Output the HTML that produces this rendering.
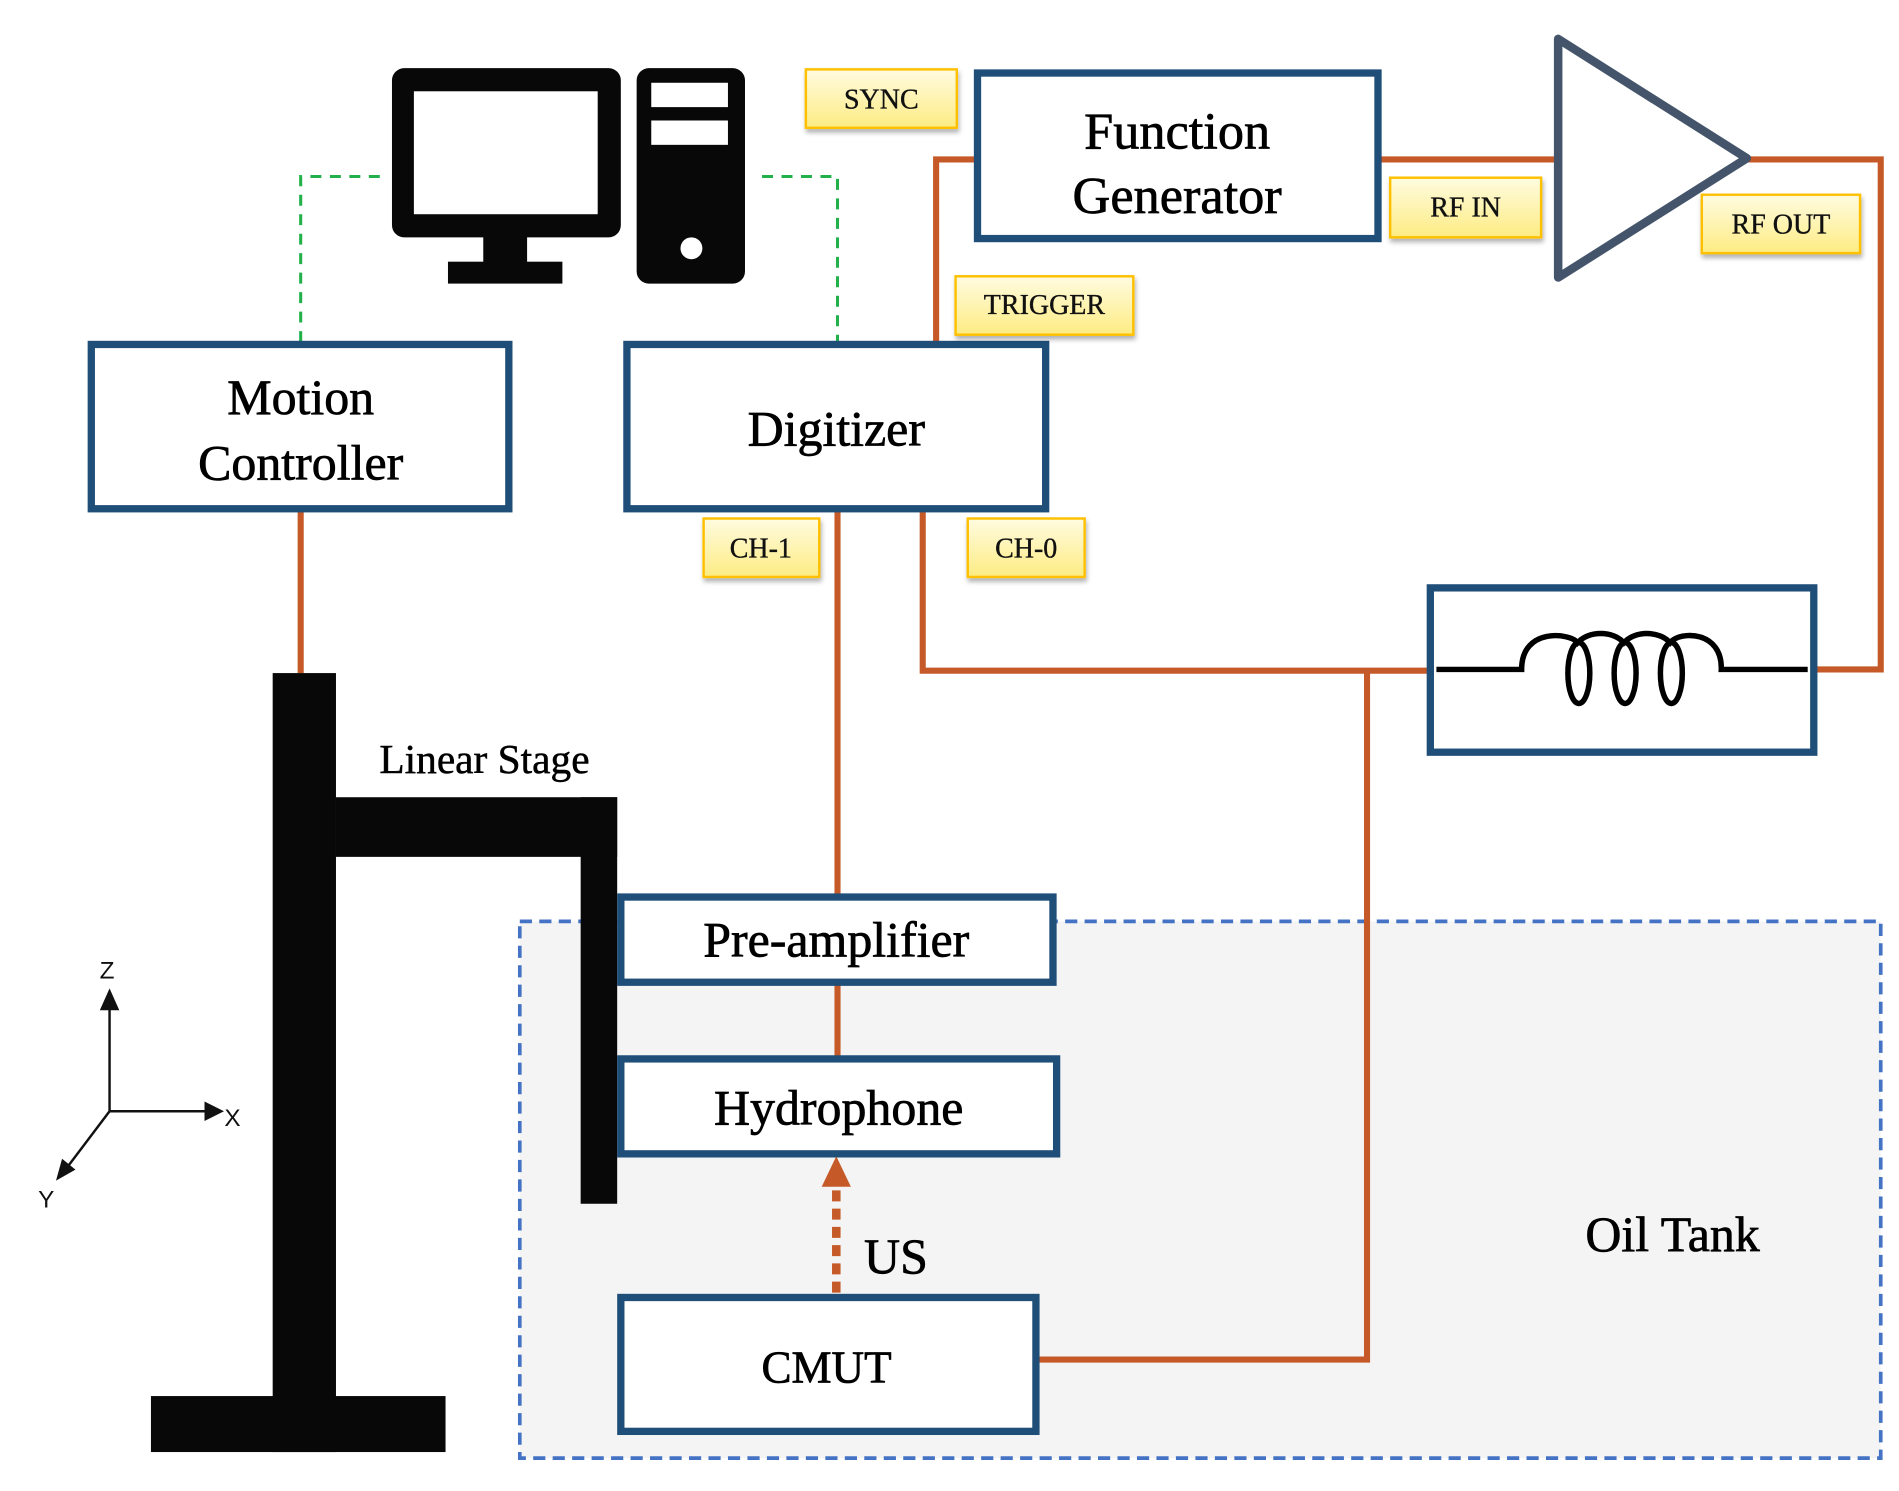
<!DOCTYPE html>
<html><head><meta charset="utf-8"><style>html,body{margin:0;padding:0;background:#fff}svg{display:block}</style></head>
<body>
<svg width="1899" height="1491" viewBox="0 0 1560 1225" preserveAspectRatio="none" xmlns="http://www.w3.org/2000/svg" font-family="Liberation Serif, serif">
<defs>
<linearGradient id="g" x1="0" y1="0" x2="0" y2="1"><stop offset="0" stop-color="#fffbe0"/><stop offset="1" stop-color="#fdec83"/></linearGradient>
<filter id="s" x="-10%" y="-10%" width="130%" height="140%"><feDropShadow dx="1" dy="3" stdDeviation="2" flood-color="#000" flood-opacity="0.3"/></filter>
</defs>
<rect x="427" y="757" width="1118" height="441" fill="#f3f4f3" stroke="#4472c4" stroke-width="3" stroke-dasharray="10,6"/>
<path d="M247 281 V145 H312 M626 145 H688 V281" fill="none" stroke="#22b04b" stroke-width="2.5" stroke-dasharray="9,7"/>
<g fill="none" stroke="#c55a28" stroke-width="5">
<path d="M803 131 H769 V281"/>
<path d="M1132 131 H1280"/>
<path d="M1435 131 H1545 V550 H1490"/>
<path d="M688 418 V737"/>
<path d="M688 807 V870"/>
<path d="M758 418 V551 H1175"/>
<path d="M1123 551 V1117 H851"/>
<path d="M247 418 V553"/>
</g>
<path d="M687 1062 V975" stroke="#c55a28" stroke-width="7" stroke-dasharray="9,6"/>
<polygon points="675,975 699,975 687,950" fill="#c55a28"/>
<rect x="322" y="56" width="188" height="139" rx="10" fill="#080808"/>
<rect x="340" y="75" width="151" height="101" fill="#fff"/>
<rect x="397" y="194" width="36" height="22" fill="#080808"/>
<rect x="368" y="215" width="94" height="18" fill="#080808"/>
<rect x="523" y="56" width="89" height="177" rx="10" fill="#080808"/>
<rect x="535" y="68" width="63" height="20" fill="#fff"/>
<rect x="535" y="99" width="63" height="20" fill="#fff"/>
<circle cx="568" cy="204" r="9" fill="#fff"/>
<g fill="#080808">
<rect x="224" y="553" width="52" height="640"/>
<rect x="124" y="1147" width="242" height="46"/>
<rect x="276" y="655" width="231" height="49"/>
<rect x="477" y="655" width="30" height="334"/>
</g>
<text x="398" y="635" font-size="34" text-anchor="middle" stroke="#000" stroke-width="0.4">Linear Stage</text>
<g fill="#fff" stroke="#1f4e79" stroke-width="6">
<rect x="803" y="60" width="329" height="136"/>
<rect x="515" y="283" width="344" height="135"/>
<rect x="75" y="283" width="343" height="135"/>
<rect x="1175" y="483" width="315" height="135"/>
<rect x="510" y="737" width="355" height="70"/>
<rect x="510" y="870" width="358" height="78"/>
<rect x="510" y="1066" width="341" height="110"/>
</g>
<g stroke="#000" stroke-width="0.6">
<text font-size="43" text-anchor="middle"><tspan x="967" y="122">Function</tspan><tspan x="967" y="175">Generator</tspan></text>
<text font-size="41" text-anchor="middle"><tspan x="247" y="340">Motion</tspan><tspan x="247" y="394">Controller</tspan></text>
<text x="687" y="366" font-size="41" text-anchor="middle">Digitizer</text>
<text x="687" y="786" font-size="41" text-anchor="middle">Pre-amplifier</text>
<text x="689" y="924" font-size="41" text-anchor="middle">Hydrophone</text>
<text x="679" y="1136" font-size="37" text-anchor="middle">CMUT</text>
<text x="736" y="1046" font-size="41" text-anchor="middle">US</text>
<text x="1374" y="1028" font-size="41" text-anchor="middle">Oil Tank</text>
</g>
<polygon points="1280,32 1280,228 1435,130" fill="#fff" stroke="#44546a" stroke-width="7" stroke-linejoin="round"/>
<g fill="none" stroke="#000" stroke-width="4.5">
<path d="M1180 550 H1250 C1250 515 1290 520 1296 528 C1305 518 1325 518 1334 528 C1343 518 1363 518 1372 528 C1380 518 1415 518 1414 550 H1485"/>
<ellipse cx="1297" cy="553" rx="9" ry="25"/>
<ellipse cx="1335" cy="553" rx="9" ry="25"/>
<ellipse cx="1373" cy="553" rx="9" ry="25"/>
</g>
<g stroke="#111" stroke-width="2" fill="none"><path d="M90 913 V825"/><path d="M90 913 H172"/><path d="M90 913 L56 958"/></g>
<polygon points="82,830 98,830 90,812" fill="#111"/>
<polygon points="168,905 168,921 184,913" fill="#111"/>
<polygon points="46,970 51,952 62,961" fill="#111"/>
<g font-family="Liberation Sans, sans-serif" font-size="20" fill="#111" text-anchor="middle"><text x="88" y="804">Z</text><text x="191" y="925">X</text><text x="38" y="992">Y</text></g>
<g filter="url(#s)" fill="url(#g)" stroke="#ffc000" stroke-width="2">
<rect x="662" y="57" width="124" height="48"/>
<rect x="785" y="227" width="146" height="48"/>
<rect x="1142" y="146" width="124" height="49"/>
<rect x="1398" y="160" width="130" height="48"/>
<rect x="578" y="426" width="95" height="48"/>
<rect x="795" y="426" width="96" height="48"/>
</g>
<g font-size="23" text-anchor="middle" fill="#111" stroke="#111" stroke-width="0.3">
<text x="724" y="89">SYNC</text>
<text x="858" y="258">TRIGGER</text>
<text x="1204" y="178">RF IN</text>
<text x="1463" y="192">RF OUT</text>
<text x="625" y="458">CH-1</text>
<text x="843" y="458">CH-0</text>
</g>
</svg>
</body></html>
